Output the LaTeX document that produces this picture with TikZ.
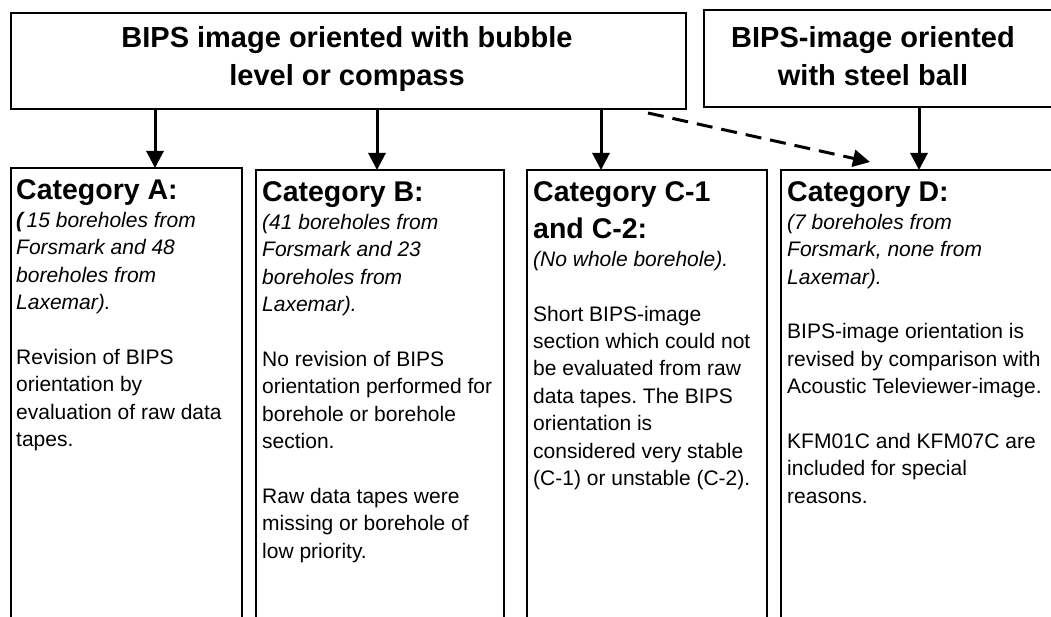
\documentclass[tikz,border=0pt]{standalone}
\usepackage{fontspec}
\setmainfont{Liberation Sans}
\usetikzlibrary{arrows.meta}
\frenchspacing

% type sizes; the space resets undo the fixed word spacing of align=left
\newcommand{\headsize}{\fontsize{28.5}{37}\selectfont\bfseries\spaceskip=0pt\xspaceskip=0pt\relax}
\newcommand{\bodysize}{\fontsize{21}{27.4}\selectfont\mdseries\spaceskip=0pt\xspaceskip=0pt\relax}

\begin{document}
\begin{tikzpicture}[x=1pt,y=-1pt,
  frame/.style={draw=black, line width=1.8pt, inner sep=0pt, outer sep=0pt},
  title/.style={font=\fontsize{29}{38}\selectfont\bfseries, align=center, inner sep=0pt},
  body/.style={anchor=base west, inner sep=0pt, text width=320pt, align=left},
  flow/.style={line width=3pt, -{Triangle[width=17pt,length=17pt]}},
  alt/.style={flow, dash pattern=on 16pt off 9pt}
]
\useasboundingbox (0,0) rectangle (1051,617);
\clip (0,0) rectangle (1051,617);

% header boxes
\node[frame, minimum width=675pt, minimum height=96pt] (top1) at (348.5,61) {};
\node[title] (top1text) at (347,59) {BIPS image oriented with bubble\\level or compass};
\node[frame, minimum width=360pt, minimum height=97pt] (top2) at (884,58.5) {};
\node[title] (top2text) at (873,56) {BIPS-image oriented\\with steel ball};

% category boxes (they run on below the page)
\node[frame, minimum width=231pt, minimum height=560pt] (catA) at (126.5,448) {};
\node[frame, minimum width=248pt, minimum height=560pt] (catB) at (380,450) {};
\node[frame, minimum width=240pt, minimum height=560pt] (catC) at (647,450) {};
\node[frame, minimum width=300pt, minimum height=560pt] (catD) at (931,450) {};

% category texts
\node[body] (textA) at (16,200) {\headsize Category A:\par
  \bodysize\itshape{\bfseries(}\,15 boreholes from\\Forsmark and 48\\boreholes from\\Laxemar).\\[27.4pt]
  \upshape Revision of BIPS\\orientation by\\evaluation of raw data\\tapes.\par};
\node[body] (textB) at (262,202) {\headsize Category B:\par
  \bodysize\itshape (41 boreholes from\\Forsmark and 23\\boreholes from\\Laxemar).\\[27.4pt]
  \upshape No revision of BIPS\\orientation performed for\\borehole or borehole\\section.\\[27.4pt]
  Raw data tapes were\\missing or borehole of\\low priority.\par};
\node[body] (textC) at (533,202) {\headsize Category C-1\\and C-2:\par
  \bodysize\itshape (No whole borehole).\\[27.4pt]
  \upshape Short BIPS-image\\section which could not\\be evaluated from raw\\data tapes. The BIPS\\orientation is\\considered very stable\\(C-1) or unstable (C-2).\par};
\node[body] (textD) at (787,202) {\headsize Category D:\par
  \bodysize\itshape (7 boreholes from\\Forsmark, none from\\Laxemar).\\[27.4pt]
  \upshape BIPS-image orientation is\\revised by comparison with\\Acoustic Televiewer-image.\\[27.4pt]
  KFM01C and KFM07C are\\included for special\\reasons.\par};

% connectors
\draw[flow] (155,0 |- top1.south) -- (155,0 |- catA.north);
\draw[flow] (377,0 |- top1.south) -- (377,0 |- catB.north);
\draw[flow] (601,0 |- top1.south) -- (601,0 |- catC.north);
\draw[flow] (919,0 |- top2.south) -- (919,0 |- catD.north);
\draw[alt] ([shift={(-38,4)}]top1.south east) -- ([shift={(89,-8)}]catD.north west);
\end{tikzpicture}
\end{document}
